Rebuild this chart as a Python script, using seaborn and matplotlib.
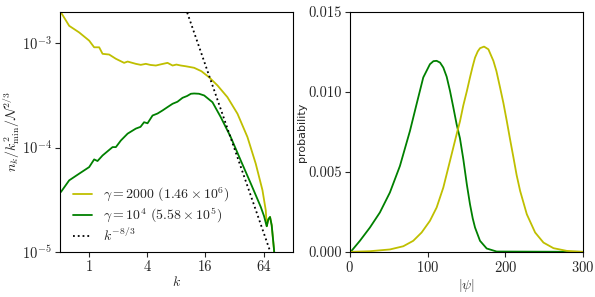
import numpy as np
import pandas as pd
import seaborn as sns
import matplotlib.pyplot as plt
from matplotlib.ticker import FixedLocator, FixedFormatter, NullLocator

# ---- left panel: spectra n_k ----
k_y = [0.5, 0.51, 0.621, 0.788, 1.0, 1.126, 1.269, 1.376, 1.61, 1.89, 2.30, 2.50,
       3.04, 3.42, 3.86, 4.3, 4.9, 5.6, 6.47, 7.3, 8.0, 8.88, 10.0, 12.2, 14.5,
       17.4, 21.3, 27.0, 34.3, 43.5, 53.0, 62.2, 67.3, 68.9, 71.5, 74.5, 77.5,
       82.0, 86.0]
n_y = [2.1e-3, 1.98e-3, 1.47e-3, 1.27e-3, 1.06e-3, 9.15e-4, 9.15e-4, 7.92e-4, 7.8e-4,
       7.1e-4, 6.49e-4, 6.68e-4, 6.35e-4, 6.21e-4, 6.35e-4, 6.2e-4, 6.12e-4, 6.3e-4,
       6.49e-4, 6.12e-4, 6.25e-4, 6.12e-4, 6.02e-4, 5.82e-4, 5.4e-4, 4.73e-4, 3.94e-4,
       3.04e-4, 2.11e-4, 1.26e-4, 7.0e-5, 3.9e-5, 2.5e-5, 1.76e-5, 2.05e-5, 2.16e-5,
       1.8e-5, 1.04e-5, 5e-6]

k_g = [0.51, 0.621, 0.788, 1.0, 1.126, 1.22, 1.376, 1.745, 1.89, 2.13, 2.5, 3.04,
       3.4, 3.7, 4.02, 4.53, 5.1, 5.75, 6.5, 7.3, 8.2, 9.26, 10.3, 11.3, 12.2, 13.7,
       15.5, 18.9, 23.0, 29.2, 37.0, 47.1, 59.7, 64.6, 67.3, 68.9, 71.5, 74.5, 77.5,
       82.0, 86.0]
n_g = [3.75e-5, 4.85e-5, 5.62e-5, 6.5e-5, 7.7e-5, 7.43e-5, 8.4e-5, 1.01e-4, 1.01e-4,
       1.17e-4, 1.36e-4, 1.52e-4, 1.58e-4, 1.75e-4, 1.71e-4, 2.03e-4, 2.12e-4, 2.27e-4,
       2.45e-4, 2.63e-4, 2.75e-4, 3.0e-4, 3.12e-4, 3.28e-4, 3.3e-4, 3.28e-4, 3.16e-4,
       2.72e-4, 1.96e-4, 1.26e-4, 7.55e-5, 4.52e-5, 2.7e-5, 2.2e-5, 1.9e-5, 1.76e-5,
       2.05e-5, 2.16e-5, 1.8e-5, 1.04e-5, 5e-6]

k_fit = [8.0, 100.0]

# ---- right panel: PDF of |psi| ----
psi_g = [0, 2.1, 12.9, 25.8, 38.6, 51.5, 64.4, 77.3, 85.8, 94.4, 103.0, 107.5, 111.6,
         116.0, 120.2, 124.5, 128.8, 133.0, 137.3, 141.6, 145.9, 150.5, 154.5, 158.0,
         161.0, 167.4, 176.0, 188.8, 300]
p_g = [0, 0.00006, 0.00069, 0.00152, 0.00246, 0.00371, 0.00537, 0.00756, 0.00923,
       0.0109, 0.01173, 0.01192, 0.01194, 0.01183, 0.01152, 0.01095, 0.01006, 0.00905,
       0.00798, 0.0071, 0.0058, 0.0042, 0.00298, 0.0021, 0.00152, 0.00069, 0.00021,
       0.00002, 0]

psi_y = [0, 25.8, 51.5, 68.7, 81.5, 92.3, 103.0, 111.6, 120.2, 128.8, 137.3, 141.6,
         145.9, 150.5, 154.5, 158.0, 161.0, 164.5, 167.4, 172.6, 178.2, 184.6, 188.5,
         193.2, 197.5, 201.8, 206.0, 210.4, 214.5, 219.0, 227.6, 238.3, 249.0, 261.9,
         279.1, 300]
p_y = [0, 0.00004, 0.00015, 0.00035, 0.00069, 0.00121, 0.00194, 0.00277, 0.00402,
       0.00569, 0.00735, 0.00815, 0.00915, 0.01005, 0.0109, 0.0116, 0.01214, 0.01253,
       0.01273, 0.01283, 0.01266, 0.01194, 0.0113, 0.01027, 0.0093, 0.00819, 0.00705,
       0.0059, 0.0048, 0.00381, 0.00235, 0.00121, 0.00058, 0.00023, 0.00006, 0]

labels = [r'$\gamma = 2000\ (1.46 \times 10^6)$', r'$\gamma = 10^4\ (5.58 \times 10^5)$',
          r'$k^{-8/3}$']
c_y = '#bfbf00'
c_g = '#008000'

sns.set_style('ticks')
plt.rcParams['font.family'] = ['cmr10']
plt.rcParams['mathtext.fontset'] = 'cm'
plt.rcParams['axes.formatter.use_mathtext'] = True
plt.rcParams['font.size'] = 10

fig = plt.figure(figsize=(5.95, 2.97), dpi=100)
ax1 = fig.add_axes([0.101, 0.152, 0.391, 0.808])
ax2 = fig.add_axes([0.588, 0.152, 0.392, 0.808])

d1 = pd.DataFrame({'k': k_y, 'n': n_y})
d2 = pd.DataFrame({'k': k_g, 'n': n_g})
d3 = pd.DataFrame({'k': k_fit, 'n': [kk ** (-8 / 3) for kk in k_fit]})
sns.lineplot(data=d1, x='k', y='n', ax=ax1, color=c_y, lw=1.3, label=labels[0],
             sort=False, estimator=None)
sns.lineplot(data=d2, x='k', y='n', ax=ax1, color=c_g, lw=1.3, label=labels[1],
             sort=False, estimator=None)
sns.lineplot(data=d3, x='k', y='n', ax=ax1, color='black', lw=1.3, ls=':',
             label=labels[2], sort=False, estimator=None)

ax1.set_xscale('log', base=2)
ax1.set_yscale('log')
ax1.set_xlim(0.5, 128)
ax1.set_ylim(1e-5, 2e-3)
ax1.xaxis.set_major_locator(FixedLocator([1, 4, 16, 64]))
ax1.xaxis.set_major_formatter(FixedFormatter(['1', '4', '16', '64']))
ax1.xaxis.set_minor_locator(NullLocator())
ax1.yaxis.set_minor_locator(NullLocator())
ax1.set_xlabel(r'$k$', fontsize=10, labelpad=1)
ax1.set_ylabel(r'$n_k/k_{\min}^2/\mathcal{N}^{2/3}$', fontsize=10, labelpad=0)
ax1.legend(loc='lower left', frameon=False, fontsize=10, handlelength=1.4,
           labelspacing=0.15, bbox_to_anchor=(0.0, -0.02))

sns.lineplot(x=psi_g, y=p_g, ax=ax2, color=c_g, lw=1.3, sort=False, estimator=None)
sns.lineplot(x=psi_y, y=p_y, ax=ax2, color=c_y, lw=1.3, sort=False, estimator=None)
ax2.set_xlim(0, 300)
ax2.set_ylim(0, 0.015)
ax2.set_xticks([0, 100, 200, 300])
ax2.set_yticks([0, 0.005, 0.010, 0.015])
ax2.set_yticklabels(['0.000', '0.005', '0.010', '0.015'])
ax2.set_xlabel(r'$|\psi|$', fontsize=10, labelpad=1)
ax2.set_ylabel('probability', fontsize=8, family='DejaVu Sans', labelpad=1)

for ax in (ax1, ax2):
    ax.tick_params(direction='out', length=3.5, width=0.8, labelsize=10.5, pad=2.5)
    for s in ax.spines.values():
        s.set_linewidth(0.8)
        s.set_color('black')

fig.savefig('out.png', dpi=100)
